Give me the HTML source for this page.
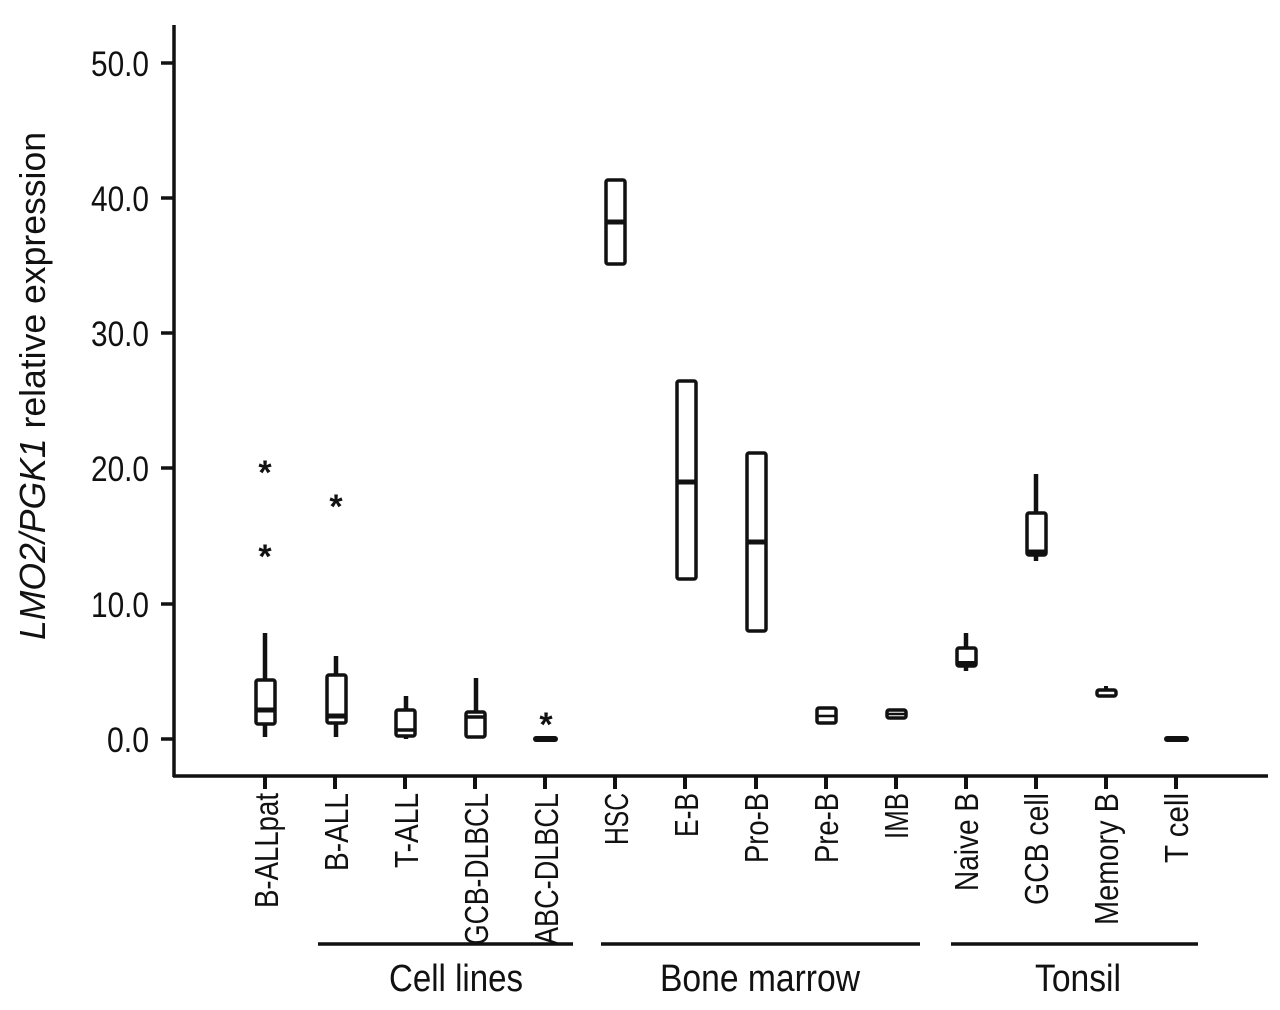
<!DOCTYPE html>
<html><head><meta charset="utf-8"><style>
html,body{margin:0;padding:0;background:#fff}
svg{display:block}
text{font-family:"Liberation Sans Narrow","Liberation Sans",sans-serif;fill:#111}
</style></head><body>
<svg width="1280" height="1010" viewBox="0 0 1280 1010" xmlns="http://www.w3.org/2000/svg">
<g stroke="#111" stroke-width="3.5" fill="none">
<line x1="174" y1="25" x2="174" y2="777"/>
<line x1="173" y1="776" x2="1268" y2="776"/>
<line x1="161" y1="63" x2="174" y2="63"/>
<line x1="161" y1="198" x2="174" y2="198"/>
<line x1="161" y1="333" x2="174" y2="333"/>
<line x1="161" y1="468" x2="174" y2="468"/>
<line x1="161" y1="604" x2="174" y2="604"/>
<line x1="161" y1="739" x2="174" y2="739"/>
<g stroke-width="4">
<line x1="265" y1="776" x2="265" y2="789"/><line x1="335" y1="776" x2="335" y2="789"/>
<line x1="405" y1="776" x2="405" y2="789"/><line x1="475" y1="776" x2="475" y2="789"/>
<line x1="545" y1="776" x2="545" y2="789"/><line x1="615" y1="776" x2="615" y2="789"/>
<line x1="685" y1="776" x2="685" y2="789"/><line x1="756" y1="776" x2="756" y2="789"/>
<line x1="826" y1="776" x2="826" y2="789"/><line x1="896" y1="776" x2="896" y2="789"/>
<line x1="966" y1="776" x2="966" y2="789"/><line x1="1036" y1="776" x2="1036" y2="789"/>
<line x1="1106" y1="776" x2="1106" y2="789"/><line x1="1176" y1="776" x2="1176" y2="789"/>
</g>
<line x1="318" y1="944" x2="573" y2="944"/>
<line x1="601" y1="944" x2="920" y2="944"/>
<line x1="951" y1="944" x2="1198" y2="944"/>
</g>
<g stroke="#111" stroke-width="3.5" fill="#fff">
<line x1="265" y1="633" x2="265" y2="737" stroke-width="4.5"/>
<rect x="256" y="680" width="19" height="44" rx="2"/>
<line x1="256" y1="710" x2="275" y2="710" stroke-width="5"/>
<line x1="336" y1="656" x2="336" y2="737" stroke-width="4.5"/>
<rect x="327" y="675" width="19" height="48" rx="2"/>
<line x1="327" y1="716" x2="346" y2="716" stroke-width="5"/>
<line x1="406" y1="696" x2="406" y2="739" stroke-width="4.5"/>
<rect x="396" y="710" width="19" height="26" rx="2"/>
<line x1="396" y1="730" x2="415" y2="730" stroke-width="3.5"/>
<line x1="476" y1="678" x2="476" y2="712" stroke-width="4.5"/>
<rect x="466" y="712" width="19" height="25" rx="2"/>
<line x1="466" y1="717" x2="485" y2="717" stroke-width="3.5"/>
<line x1="536" y1="739" x2="555" y2="739" stroke-width="6" stroke-linecap="round"/>
<rect x="606" y="180" width="19" height="84" rx="2"/>
<line x1="606" y1="222" x2="625" y2="222" stroke-width="5"/>
<rect x="677" y="381" width="19" height="198" rx="2"/>
<line x1="677" y1="482" x2="696" y2="482" stroke-width="5"/>
<rect x="747" y="453" width="19" height="178" rx="2"/>
<line x1="747" y1="542" x2="766" y2="542" stroke-width="5"/>
<rect x="817" y="708" width="19" height="15" rx="2"/>
<line x1="817" y1="716" x2="836" y2="716" stroke-width="2.5"/>
<rect x="887" y="710" width="19" height="8" rx="2"/>
<line x1="887" y1="714" x2="906" y2="714" stroke-width="2.5"/>
<line x1="966" y1="633" x2="966" y2="671" stroke-width="4.5"/>
<rect x="957" y="648" width="19" height="18" rx="2"/>
<line x1="957" y1="663" x2="976" y2="663" stroke-width="4"/>
<line x1="1036" y1="474" x2="1036" y2="561" stroke-width="4.5"/>
<rect x="1027" y="513" width="19" height="42" rx="2"/>
<line x1="1027" y1="552" x2="1046" y2="552" stroke-width="5"/>
<line x1="1106" y1="686" x2="1106" y2="696" stroke-width="4"/>
<rect x="1097" y="690" width="19" height="6" rx="2"/>
<line x1="1167" y1="739" x2="1186" y2="739" stroke-width="6" stroke-linecap="round"/>
</g>
<g font-size="34" text-anchor="middle" font-weight="bold" font-family="Liberation Sans">
<text x="265" y="484">*</text><text x="265" y="568">*</text>
<text x="336" y="518">*</text><text x="546" y="736">*</text>
</g>
<g font-size="35" text-anchor="end">
<text x="149" y="76" textLength="58" lengthAdjust="spacingAndGlyphs">50.0</text>
<text x="149" y="211" textLength="58" lengthAdjust="spacingAndGlyphs">40.0</text>
<text x="149" y="346" textLength="58" lengthAdjust="spacingAndGlyphs">30.0</text>
<text x="149" y="481" textLength="58" lengthAdjust="spacingAndGlyphs">20.0</text>
<text x="149" y="617" textLength="58" lengthAdjust="spacingAndGlyphs">10.0</text>
<text x="149" y="752" textLength="42" lengthAdjust="spacingAndGlyphs">0.0</text>
</g>
<text transform="translate(45,386) rotate(-90)" font-size="36" text-anchor="middle" textLength="508" lengthAdjust="spacingAndGlyphs"><tspan font-style="italic">LMO2/PGK1</tspan> relative expression</text>
<g font-size="33" text-anchor="end">
<text transform="translate(278,793) rotate(-90)" textLength="115" lengthAdjust="spacingAndGlyphs">B-ALLpat</text>
<text transform="translate(348,793) rotate(-90)" textLength="78" lengthAdjust="spacingAndGlyphs">B-ALL</text>
<text transform="translate(418,793) rotate(-90)" textLength="75" lengthAdjust="spacingAndGlyphs">T-ALL</text>
<text transform="translate(488,793) rotate(-90)" textLength="152" lengthAdjust="spacingAndGlyphs">GCB-DLBCL</text>
<text transform="translate(558,793) rotate(-90)" textLength="152" lengthAdjust="spacingAndGlyphs">ABC-DLBCL</text>
<text transform="translate(628,793) rotate(-90)" textLength="52" lengthAdjust="spacingAndGlyphs">HSC</text>
<text transform="translate(698,793) rotate(-90)" textLength="44" lengthAdjust="spacingAndGlyphs">E-B</text>
<text transform="translate(768,793) rotate(-90)" textLength="70" lengthAdjust="spacingAndGlyphs">Pro-B</text>
<text transform="translate(838,793) rotate(-90)" textLength="70" lengthAdjust="spacingAndGlyphs">Pre-B</text>
<text transform="translate(908,793) rotate(-90)" textLength="46" lengthAdjust="spacingAndGlyphs">IMB</text>
<text transform="translate(978,793) rotate(-90)" textLength="98" lengthAdjust="spacingAndGlyphs">Naive B</text>
<text transform="translate(1048,793) rotate(-90)" textLength="112" lengthAdjust="spacingAndGlyphs">GCB cell</text>
<text transform="translate(1118,793) rotate(-90)" textLength="132" lengthAdjust="spacingAndGlyphs">Memory B</text>
<text transform="translate(1188,793) rotate(-90)" textLength="70" lengthAdjust="spacingAndGlyphs">T cell</text>
</g>
<g font-size="38" text-anchor="middle">
<text x="456" y="991" textLength="134" lengthAdjust="spacingAndGlyphs">Cell lines</text>
<text x="760" y="991" textLength="200" lengthAdjust="spacingAndGlyphs">Bone marrow</text>
<text x="1078" y="991" textLength="86" lengthAdjust="spacingAndGlyphs">Tonsil</text>
</g>
</svg>
</body></html>
